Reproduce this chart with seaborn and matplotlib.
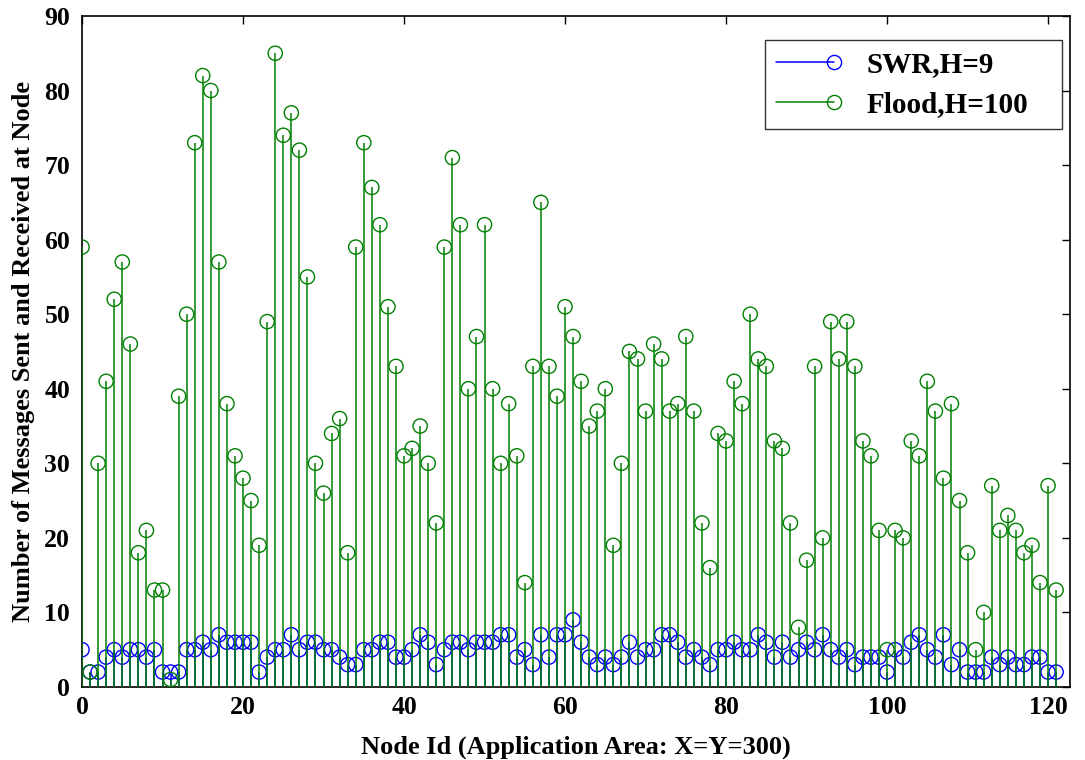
import numpy as np
import pandas as pd
import seaborn as sns
import matplotlib
matplotlib.use("Agg")
import matplotlib.pyplot as plt
from matplotlib.lines import Line2D
from matplotlib.legend_handler import HandlerBase

# Messages sent and received per node
node_ids = list(range(122))
swr_msgs = [5, 2, 2, 4, 5, 4, 5, 5, 4, 5,
            2, 2, 2, 5, 5, 6, 5, 7, 6, 6,
            6, 6, 2, 4, 5, 5, 7, 5, 6, 6,
            5, 5, 4, 3, 3, 5, 5, 6, 6, 4,
            4, 5, 7, 6, 3, 5, 6, 6, 5, 6,
            6, 6, 7, 7, 4, 5, 3, 7, 4, 7,
            7, 9, 6, 4, 3, 4, 3, 4, 6, 4,
            5, 5, 7, 7, 6, 4, 5, 4, 3, 5,
            5, 6, 5, 5, 7, 6, 4, 6, 4, 5,
            6, 5, 7, 5, 4, 5, 3, 4, 4, 4,
            2, 5, 4, 6, 7, 5, 4, 7, 3, 5,
            2, 2, 2, 4, 3, 4, 3, 3, 4, 4, 2, 2]
flood_msgs = [59, 2, 30, 41, 52, 57, 46, 18, 21, 13,
              13, 1, 39, 50, 73, 82, 80, 57, 38, 31,
              28, 25, 19, 49, 85, 74, 77, 72, 55, 30,
              26, 34, 36, 18, 59, 73, 67, 62, 51, 43,
              31, 32, 35, 30, 22, 59, 71, 62, 40, 47,
              62, 40, 30, 38, 31, 14, 43, 65, 43, 39,
              51, 47, 41, 35, 37, 40, 19, 30, 45, 44,
              37, 46, 44, 37, 38, 47, 37, 22, 16, 34,
              33, 41, 38, 50, 44, 43, 33, 32, 22, 8,
              17, 43, 20, 49, 44, 49, 43, 33, 31, 21,
              5, 21, 20, 33, 31, 41, 37, 28, 38, 25,
              18, 5, 10, 27, 21, 23, 21, 18, 19, 14, 27, 13]
series_labels = ["SWR,H=9", "Flood,H=100"]
series_colors = ["#0000ff", "#008000"]
x_ticks = [0, 20, 40, 60, 80, 100, 120]
y_ticks = [0, 10, 20, 30, 40, 50, 60, 70, 80, 90]

sns.set_theme(style="white")
plt.rcParams["font.family"] = ["Liberation Serif", "DejaVu Serif"]
plt.rcParams["font.weight"] = "bold"
plt.rcParams["text.color"] = "black"
plt.rcParams["axes.labelcolor"] = "black"
plt.rcParams["xtick.color"] = "black"
plt.rcParams["ytick.color"] = "black"

df = pd.DataFrame({"node": node_ids, "swr": swr_msgs, "flood": flood_msgs})

fig = plt.figure(figsize=(10.85, 7.6), dpi=100)
ax = fig.add_axes([0.0756, 0.0961, 0.9104, 0.8829])

handles = []
z = 2
for col, label, color in zip(["swr", "flood"], series_labels, series_colors):
    ax.vlines(df["node"], 0, df[col], color=color, linewidth=1.1, zorder=z)
    sns.scatterplot(data=df, x="node", y=col, ax=ax, marker="o",
                    s=105, facecolors="none", edgecolor=color,
                    linewidth=1.0, zorder=z + 1, legend=False)
    handles.append(Line2D([], [], color=color, linewidth=1.1,
                          marker="o", markersize=10.2, markerfacecolor="none",
                          markeredgecolor=color, label=label))
    z += 2


class StemKey(HandlerBase):
    """Legend key: horizontal line with an open circle at its right end."""
    def create_artists(self, legend, orig_handle, xdescent, ydescent,
                       width, height, fontsize, trans):
        y = height / 2 - ydescent
        x0, x1 = -xdescent, width - xdescent
        line = Line2D([x0, x1], [y, y], color=orig_handle.get_color(),
                      linewidth=orig_handle.get_linewidth(), transform=trans)
        mk = Line2D([x1], [y], linestyle="none", marker="o",
                    markersize=orig_handle.get_markersize(),
                    markerfacecolor="none",
                    markeredgecolor=orig_handle.get_color(), transform=trans)
        return [line, mk]


ax.set_xlim(0, 122.7)
ax.set_ylim(0, 90)
ax.set_xticks(x_ticks)
ax.set_yticks(y_ticks)
ax.tick_params(direction="in", length=6, width=1, top=True, right=True,
               labelsize=18.5, colors="black")
ax.tick_params(axis="y", pad=8.5)
ax.tick_params(axis="x", pad=6.5)
for lab in ax.get_xticklabels() + ax.get_yticklabels():
    lab.set_fontweight("bold")
for sp in ax.spines.values():
    sp.set_color("black")
    sp.set_linewidth(1.2)

ax.set_xlabel("Node Id (Application Area: X=Y=300)", fontsize=19,
              fontweight="bold", labelpad=12)
ax.set_ylabel("Number of Messages Sent and Received at Node", fontsize=19,
              fontweight="bold", labelpad=7)

# legend box spans a fixed width; entries sit at its left side
leg = ax.legend(handles=handles, labels=series_labels,
                handler_map={Line2D: StemKey()},
                loc="upper left", bbox_to_anchor=(0.6913, 0.5, 0.3006, 0.464),
                mode="expand",
                fontsize=21, frameon=True, fancybox=False,
                edgecolor="black", handlelength=2.0, handletextpad=1.13,
                borderpad=0.37, labelspacing=0.46, borderaxespad=0.0)
leg.get_frame().set_linewidth(1.0)
for t in leg.get_texts():
    t.set_fontweight("bold")

fig.savefig("out.png", dpi=100, facecolor="white")
